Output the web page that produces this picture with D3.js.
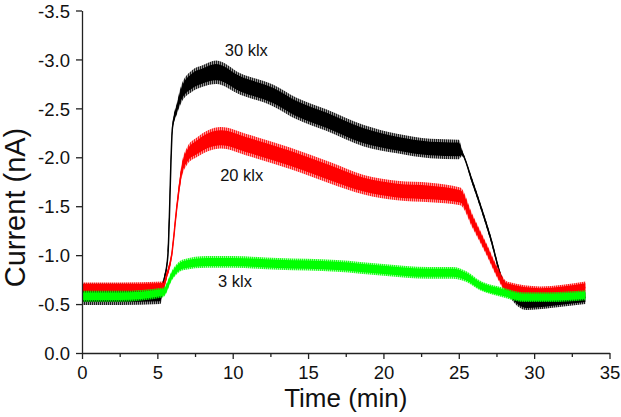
<!DOCTYPE html>
<html>
<head>
<meta charset="utf-8">
<script src="https://cdn.jsdelivr.net/npm/d3@7"></script>
<style>
  html, body { margin: 0; padding: 0; background: #fff; }
  svg { display: block; font-family: "Liberation Sans", Arial, sans-serif; }
</style>
</head>
<body>
<svg id="chart" width="621" height="417"></svg>
<script>
// ---- data ----
const xTicks = [0, 5, 10, 15, 20, 25, 30, 35];
const xMinorTicks = [2.5, 7.5, 12.5, 17.5, 22.5, 27.5, 32.5];
const yTicks = [0, -0.5, -1.0, -1.5, -2.0, -2.5, -3.0, -3.5];
const yTickLabels = ["0.0", "-0.5", "-1.0", "-1.5", "-2.0", "-2.5", "-3.0", "-3.5"];

// 30 klx (black): time (min), mean current (nA), noise half-width (nA)
const t30 = [0, 2.5, 5.2, 5.45, 5.7, 6.0, 6.3, 6.6, 7.3, 8.0, 8.9, 10.5, 12.7, 14.2, 16.2, 18.7, 20.9, 23.1, 25.0, 25.2, 25.9, 27.1, 27.9, 28.4, 29.5, 31.1, 33.4];
const v30 = [-0.60, -0.60, -0.60, -0.75, -1.0, -2.3, -2.5, -2.65, -2.78, -2.83, -2.87, -2.75, -2.63, -2.5, -2.38, -2.22, -2.14, -2.09, -2.08, -2.05, -1.75, -1.18, -0.74, -0.62, -0.51, -0.53, -0.57];
const n30 = [0.11, 0.11, 0.10, 0.04, 0.03, 0.03, 0.06, 0.09, 0.11, 0.11, 0.12, 0.11, 0.11, 0.11, 0.11, 0.11, 0.10, 0.10, 0.10, 0.04, 0.03, 0.03, 0.03, 0.05, 0.07, 0.07, 0.07];

// 20 klx (red)
const t20 = [0, 2.5, 5.4, 5.6, 5.95, 6.3, 6.6, 7.0, 7.6, 9.2, 11.1, 13.8, 16.5, 18.7, 20.9, 23.1, 25.1, 25.9, 26.9, 27.6, 28.2, 30.4, 33.4];
const v20 = [-0.67, -0.67, -0.68, -0.78, -1.0, -1.5, -1.85, -2.02, -2.1, -2.2, -2.12, -1.99, -1.84, -1.72, -1.66, -1.64, -1.60, -1.35, -1.04, -0.81, -0.67, -0.62, -0.67];
const n20 = [0.05, 0.05, 0.05, 0.04, 0.04, 0.05, 0.07, 0.09, 0.10, 0.11, 0.11, 0.11, 0.11, 0.10, 0.10, 0.10, 0.09, 0.07, 0.06, 0.06, 0.06, 0.06, 0.06];

// 3 klx (green)
const t3 = [0, 2.5, 5.4, 6.0, 6.7, 8.3, 10, 13, 16.9, 20, 23, 24.6, 25.5, 26.4, 27.9, 29.3, 31, 33.4];
const v3 = [-0.58, -0.58, -0.62, -0.80, -0.90, -0.93, -0.93, -0.91, -0.89, -0.85, -0.82, -0.82, -0.78, -0.69, -0.62, -0.57, -0.57, -0.59];
const n3 = [0.055, 0.055, 0.05, 0.05, 0.055, 0.06, 0.06, 0.06, 0.06, 0.06, 0.06, 0.06, 0.055, 0.05, 0.05, 0.05, 0.05, 0.05];

const seriesNames = ["30 klx", "20 klx", "3 klx"];
const seriesColors = ["#000000", "#ff0000", "#00ff00"];
const labelT = [10.9, 10.6, 10.15];
const labelV = [-3.03, -1.755, -0.67];

// ---- chart ----
const svg = d3.select("#chart");
const x = d3.scaleLinear().domain([0, 35]).range([82, 609.5]);
const y = d3.scaleLinear().domain([0, -3.5]).range([353, 10.5]);

const seriesData = [
  t30.map((t, i) => ({ t, v: v30[i], n: n30[i] })),
  t20.map((t, i) => ({ t, v: v20[i], n: n20[i] })),
  t3.map((t, i) => ({ t, v: v3[i], n: n3[i] }))
];

// fine hairline texture for the noisy edges of each band
const defs = svg.append("defs");
seriesColors.forEach((c, i) => {
  const p = defs.append("pattern")
    .attr("id", "hatch" + i)
    .attr("patternUnits", "userSpaceOnUse")
    .attr("width", 2).attr("height", 7);
  p.append("rect").attr("width", 2).attr("height", 7).attr("fill", c).attr("opacity", 0.4);
  p.append("rect").attr("x", 0).attr("width", 0.8).attr("height", 7).attr("fill", c);
});

const band = k => d3.area()
  .x(d => x(d.t))
  .y0(d => y(d.v + d.n * k))
  .y1(d => y(d.v - d.n * k))
  .curve(d3.curveMonotoneX);
const mid = d3.line()
  .x(d => x(d.t))
  .y(d => y(d.v))
  .curve(d3.curveMonotoneX);

const g = svg.append("g");
seriesData.forEach((data, i) => {
  const s = g.append("g");
  s.append("path").attr("d", band(1)(data)).attr("fill", `url(#hatch${i})`);
  s.append("path").attr("d", band(0.7)(data)).attr("fill", seriesColors[i]);
  s.append("path").attr("d", mid(data)).attr("fill", "none").attr("stroke", seriesColors[i]).attr("stroke-width", 1.5);
});

// axes
const xAxis = svg.append("g").attr("transform", `translate(0,${y(0)})`)
  .call(d3.axisBottom(x).tickValues(xTicks).tickSize(6).tickSizeOuter(0).tickPadding(7).tickFormat(d3.format("d")));
const xMinor = svg.append("g").attr("transform", `translate(0,${y(0)})`)
  .call(d3.axisBottom(x).tickValues(xMinorTicks).tickSize(4).tickSizeOuter(0).tickFormat(""));
xMinor.select(".domain").remove();
const yAxis = svg.append("g").attr("transform", `translate(${x(0)},0)`)
  .call(d3.axisLeft(y).tickValues(yTicks).tickSize(6).tickSizeOuter(0).tickPadding(6)
    .tickFormat((d, i) => yTickLabels[i]));

[xAxis, xMinor, yAxis].forEach(a => {
  a.selectAll(".domain, line").attr("stroke", "#222").attr("stroke-width", 1.3);
  a.selectAll("text").attr("fill", "#111").attr("font-size", 18.5)
    .attr("font-family", "'Liberation Sans', Arial, sans-serif");
});
yAxis.selectAll("text").attr("dy", "0.36em");

// axis titles
svg.append("text")
  .attr("x", (x(0) + x(35)) / 2)
  .attr("y", 407)
  .attr("text-anchor", "middle")
  .attr("font-size", 26)
  .attr("fill", "#111")
  .text("Time (min)");
svg.append("text")
  .attr("transform", `translate(25,${(10 + 353) / 2 + 26}) rotate(-90)`)
  .attr("text-anchor", "middle")
  .attr("font-size", 29)
  .attr("fill", "#111")
  .text("Current (nA)");

// series labels
seriesNames.forEach((name, i) => {
  svg.append("text")
    .attr("x", x(labelT[i]))
    .attr("y", y(labelV[i]))
    .attr("text-anchor", "middle")
    .attr("font-size", 16.5)
    .attr("fill", "#111")
    .text(name);
});
</script>
</body>
</html>
